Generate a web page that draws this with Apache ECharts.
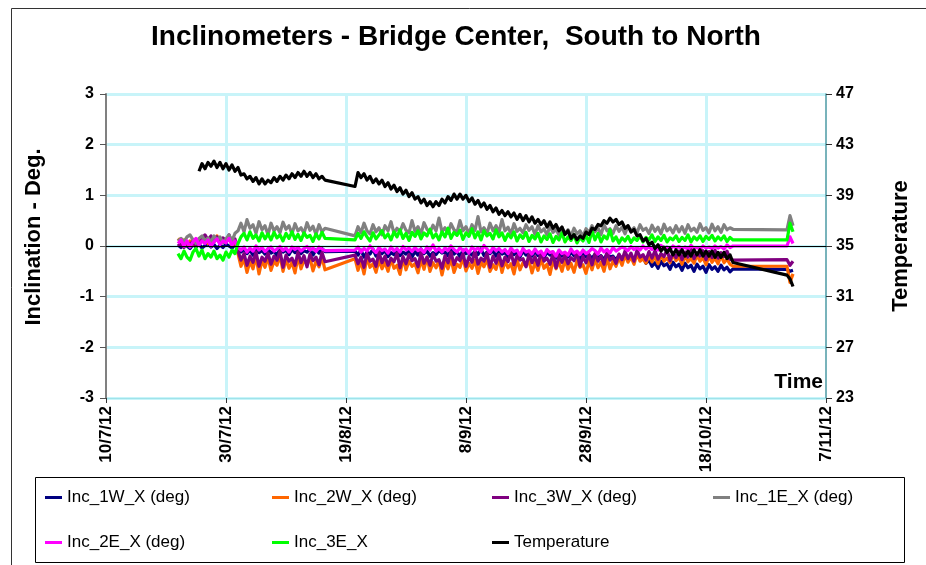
<!DOCTYPE html>
<html>
<head>
<meta charset="utf-8">
<script src="https://cdn.jsdelivr.net/npm/echarts@6/dist/echarts.min.js"></script>
<style>
html,body{margin:0;padding:0;background:#fff;}
#chart{width:926px;height:565px;}
</style>
</head>
<body>
<div id="chart"></div>
<script>
// ---- Data ----
// Sampling grid: logger readings every half day, day 0 = 10/7/12
const segments = [[12, 36.5], [41.5, 104.5], [113.5, 114.5]];
const stepDays = 0.5;

const xTickLabels = ['10/7/12', '30/7/12', '19/8/12', '8/9/12', '28/9/12', '18/10/12', '7/11/12'];

const seriesNames = ['Inc_1W_X (deg)', 'Inc_2W_X (deg)', 'Inc_3W_X (deg)', 'Inc_1E_X (deg)', 'Inc_2E_X (deg)', 'Inc_3E_X', 'Temperature'];

const inc1W = [
  // segment A
  0.02,-0.03,0.05,0.00,-0.05,0.03,-0.02,0.04,-0.04,0.01,
  0.05,-0.02,0.03,-0.05,0.02,-0.03,0.04,0.00,-0.04,0.02,
  -0.05,-0.12,-0.06,-0.15,-0.08,-0.18,-0.04,-0.13,-0.09,-0.16,
  -0.06,-0.14,-0.10,-0.19,-0.05,-0.12,-0.08,-0.17,-0.07,-0.13,
  -0.04,-0.15,-0.09,-0.12,-0.06,-0.18,-0.08,-0.14,-0.05,-0.11,
  // segment B
  -0.10,-0.18,-0.08,-0.22,-0.12,-0.16,-0.06,-0.20,-0.11,-0.15,
  -0.09,-0.21,-0.13,-0.17,-0.07,-0.19,-0.12,-0.16,-0.08,-0.22,
  -0.11,-0.18,-0.06,-0.15,-0.10,-0.20,-0.13,-0.17,-0.09,-0.14,
  -0.12,-0.19,-0.07,-0.16,-0.11,-0.21,-0.08,-0.15,-0.13,-0.18,
  -0.10,-0.17,-0.06,-0.19,-0.12,-0.15,-0.09,-0.20,-0.11,-0.16,
  -0.13,-0.21,-0.08,-0.17,-0.12,-0.22,-0.10,-0.18,-0.14,-0.20,
  -0.11,-0.19,-0.15,-0.23,-0.12,-0.18,-0.16,-0.24,-0.13,-0.20,
  -0.15,-0.22,-0.12,-0.19,-0.17,-0.25,-0.14,-0.21,-0.18,-0.24,
  -0.16,-0.23,-0.19,-0.27,-0.15,-0.22,-0.20,-0.28,-0.18,-0.25,
  -0.19,-0.26,-0.21,-0.28,-0.18,-0.25,-0.22,-0.34,-0.28,-0.40,
  -0.33,-0.44,-0.30,-0.39,-0.35,-0.46,-0.32,-0.41,-0.36,-0.48,
  -0.34,-0.43,-0.38,-0.50,-0.36,-0.45,-0.40,-0.52,-0.37,-0.46,
  -0.41,-0.50,-0.38,-0.47,-0.42,-0.51,-0.45,
  // segment C
  -0.46,-0.50,-0.48
];

const inc2W = [
  0.15,0.08,0.12,0.02,0.10,0.05,0.00,0.08,0.12,0.18,
  0.05,0.15,0.10,0.20,0.04,0.12,0.08,0.16,0.02,0.10,
  -0.15,-0.40,-0.25,-0.52,-0.30,-0.45,-0.20,-0.55,-0.28,-0.42,
  -0.22,-0.48,-0.30,-0.38,-0.18,-0.50,-0.26,-0.44,-0.32,-0.53,
  -0.20,-0.45,-0.28,-0.36,-0.24,-0.49,-0.30,-0.41,-0.22,-0.47,
  -0.25,-0.48,-0.30,-0.55,-0.22,-0.42,-0.35,-0.52,-0.28,-0.45,
  -0.32,-0.50,-0.26,-0.44,-0.38,-0.56,-0.24,-0.47,-0.30,-0.40,
  -0.35,-0.53,-0.27,-0.46,-0.22,-0.50,-0.33,-0.43,-0.29,-0.57,
  -0.31,-0.45,-0.25,-0.52,-0.36,-0.42,-0.23,-0.49,-0.34,-0.44,
  -0.28,-0.54,-0.32,-0.41,-0.26,-0.50,-0.37,-0.46,-0.24,-0.52,
  -0.30,-0.43,-0.35,-0.55,-0.27,-0.47,-0.33,-0.40,-0.29,-0.53,
  -0.32,-0.48,-0.25,-0.44,-0.36,-0.56,-0.28,-0.45,-0.31,-0.50,
  -0.27,-0.46,-0.34,-0.52,-0.29,-0.42,-0.37,-0.54,-0.30,-0.47,
  -0.26,-0.43,-0.32,-0.50,-0.24,-0.45,-0.30,-0.40,-0.22,-0.38,
  -0.18,-0.32,-0.22,-0.36,-0.15,-0.30,-0.25,-0.34,-0.19,-0.31,
  -0.21,-0.35,-0.17,-0.30,-0.24,-0.33,-0.16,-0.29,-0.22,-0.36,
  -0.19,-0.31,-0.25,-0.34,-0.18,-0.30,-0.23,-0.37,-0.20,-0.32,
  -0.24,-0.35,-0.19,-0.33,-0.26,-0.36,-0.40,
  -0.40,-0.72,-0.55
];

const inc3W = [
  0.00,0.05,-0.03,0.08,0.02,0.10,-0.02,0.06,0.15,0.22,
  0.12,0.20,0.08,0.18,0.05,0.16,0.10,0.22,0.06,0.14,
  -0.10,-0.28,-0.15,-0.38,-0.20,-0.32,-0.12,-0.40,-0.22,-0.30,
  -0.14,-0.36,-0.20,-0.28,-0.10,-0.42,-0.18,-0.30,-0.24,-0.38,
  -0.12,-0.33,-0.19,-0.41,-0.16,-0.29,-0.22,-0.37,-0.13,-0.31,
  -0.18,-0.35,-0.22,-0.42,-0.15,-0.30,-0.26,-0.40,-0.12,-0.33,
  -0.20,-0.38,-0.24,-0.31,-0.14,-0.43,-0.21,-0.35,-0.17,-0.29,
  -0.25,-0.41,-0.13,-0.34,-0.22,-0.38,-0.16,-0.30,-0.27,-0.44,
  -0.19,-0.33,-0.12,-0.37,-0.23,-0.29,-0.15,-0.40,-0.21,-0.32,
  -0.10,-0.36,-0.24,-0.30,-0.14,-0.42,-0.20,-0.34,-0.17,-0.39,
  -0.22,-0.31,-0.13,-0.37,-0.19,-0.28,-0.25,-0.41,-0.16,-0.33,
  -0.21,-0.38,-0.12,-0.30,-0.24,-0.36,-0.15,-0.43,-0.20,-0.32,
  -0.18,-0.35,-0.23,-0.29,-0.14,-0.40,-0.21,-0.33,-0.17,-0.37,
  -0.15,-0.30,-0.20,-0.36,-0.12,-0.28,-0.22,-0.34,-0.16,-0.27,
  -0.10,-0.25,-0.14,-0.30,-0.08,-0.22,-0.17,-0.28,-0.11,-0.24,
  -0.09,-0.26,-0.15,-0.21,-0.07,-0.29,-0.13,-0.23,-0.10,-0.27,
  -0.12,-0.22,-0.06,-0.25,-0.14,-0.20,-0.09,-0.27,-0.11,-0.23,
  -0.08,-0.24,-0.13,-0.21,-0.10,-0.26,-0.28,
  -0.27,-0.38,-0.30
];

const inc1E = [
  0.10,0.15,0.08,0.18,0.22,0.12,0.05,0.15,0.20,0.10,
  0.16,0.08,0.20,0.12,0.18,0.06,0.14,0.22,0.10,0.25,
  0.30,0.45,0.28,0.52,0.35,0.42,0.25,0.48,0.32,0.40,
  0.22,0.45,0.30,0.38,0.26,0.47,0.33,0.40,0.24,0.44,
  0.30,0.36,0.25,0.46,0.31,0.39,0.23,0.42,0.28,0.35,
  0.20,0.38,0.26,0.45,0.30,0.24,0.42,0.28,0.36,0.22,
  0.40,0.30,0.48,0.25,0.35,0.28,0.44,0.31,0.26,0.50,
  0.29,0.38,0.24,0.46,0.33,0.27,0.41,0.30,0.55,0.28,
  0.36,0.25,0.44,0.32,0.27,0.50,0.30,0.38,0.24,0.42,
  0.31,0.58,0.28,0.36,0.25,0.45,0.30,0.40,0.27,0.52,
  0.30,0.37,0.24,0.44,0.29,0.35,0.26,0.42,0.31,0.38,
  0.23,0.40,0.28,0.34,0.22,0.39,0.27,0.33,0.21,0.36,
  0.25,0.32,0.20,0.35,0.24,0.30,0.19,0.34,0.26,0.40,
  0.28,0.36,0.22,0.42,0.30,0.34,0.25,0.40,0.29,0.37,
  0.24,0.40,0.30,0.36,0.26,0.42,0.31,0.35,0.25,0.41,
  0.29,0.37,0.24,0.43,0.30,0.36,0.26,0.40,0.28,0.38,
  0.25,0.42,0.30,0.35,0.27,0.44,0.31,0.36,0.26,0.43,
  0.30,0.38,0.27,0.42,0.32,0.36,0.33,
  0.32,0.60,0.40
];

const inc2E = [
  0.05,0.12,0.00,0.10,-0.02,0.08,0.15,0.02,0.10,0.05,
  0.12,0.00,0.08,0.14,0.03,0.10,0.06,0.15,0.02,0.10,
  -0.02,-0.08,-0.02,-0.12,-0.04,-0.10,0.00,-0.08,-0.03,-0.11,
  -0.05,-0.02,-0.10,-0.06,-0.01,-0.09,-0.04,-0.12,-0.02,-0.07,
  -0.03,-0.10,-0.05,-0.01,-0.08,-0.04,-0.11,-0.02,-0.06,-0.09,
  -0.08,-0.02,-0.12,-0.05,-0.10,0.00,-0.07,-0.13,-0.03,-0.09,
  -0.06,-0.14,-0.02,-0.10,-0.05,-0.12,-0.01,-0.08,-0.04,-0.11,
  -0.03,-0.09,-0.06,-0.13,-0.02,-0.08,0.02,-0.10,-0.05,-0.12,
  -0.04,-0.09,0.00,-0.07,-0.12,-0.03,-0.10,-0.06,-0.14,-0.02,
  -0.08,-0.04,-0.11,0.01,-0.06,-0.13,-0.03,-0.09,-0.05,-0.12,
  -0.07,-0.15,-0.04,-0.11,-0.08,-0.18,-0.05,-0.12,-0.09,-0.16,
  -0.06,-0.14,-0.10,-0.19,-0.07,-0.13,-0.11,-0.20,-0.08,-0.15,
  -0.12,-0.18,-0.06,-0.14,-0.10,-0.17,-0.08,-0.15,-0.11,-0.05,
  -0.09,-0.16,-0.04,-0.12,-0.07,-0.14,-0.03,-0.10,-0.06,-0.02,
  -0.05,-0.09,-0.01,-0.07,-0.03,-0.08,0.00,-0.06,-0.02,-0.07,
  -0.03,-0.08,0.01,-0.05,-0.02,-0.07,0.00,-0.04,-0.01,-0.06,
  -0.02,-0.07,0.01,-0.05,-0.03,-0.06,0.00,-0.04,-0.02,-0.05,
  0.00,-0.04,-0.01,-0.06,0.02,-0.03,0.00,
  0.00,0.18,0.05
];

const inc3E = [
  -0.15,-0.25,-0.10,-0.22,-0.28,-0.12,-0.05,-0.20,-0.08,-0.25,
  -0.15,-0.22,-0.10,-0.25,-0.18,-0.28,-0.12,-0.22,-0.08,-0.15,
  0.05,0.18,0.25,0.12,0.28,0.15,0.22,0.10,0.26,0.14,
  0.24,0.12,0.27,0.16,0.22,0.10,0.25,0.15,0.28,0.13,
  0.23,0.11,0.26,0.17,0.21,0.09,0.24,0.14,0.27,0.15,
  0.12,0.25,0.15,0.28,0.18,0.10,0.26,0.14,0.22,0.30,
  0.16,0.24,0.12,0.28,0.18,0.32,0.15,0.25,0.11,0.27,
  0.19,0.30,0.14,0.26,0.20,0.33,0.16,0.24,0.12,0.28,
  0.18,0.35,0.15,0.27,0.21,0.31,0.13,0.26,0.19,0.34,
  0.16,0.28,0.12,0.30,0.20,0.25,0.14,0.32,0.18,0.26,
  0.11,0.24,0.16,0.28,0.10,0.22,0.15,0.27,0.09,0.21,
  0.14,0.25,0.08,0.20,0.13,0.24,0.07,0.19,0.12,0.26,
  0.08,0.18,0.11,0.22,0.06,0.17,0.10,0.21,0.07,0.30,
  0.12,0.25,0.08,0.20,0.14,0.32,0.10,0.18,0.06,0.16,
  0.10,0.19,0.07,0.16,0.11,0.20,0.08,0.17,0.12,0.22,
  0.09,0.18,0.11,0.21,0.08,0.16,0.12,0.20,0.09,0.17,
  0.11,0.22,0.08,0.18,0.12,0.20,0.09,0.19,0.13,0.21,
  0.10,0.18,0.12,0.20,0.09,0.17,0.12,
  0.12,0.45,0.28
];

const temperature = [
  null,null,null,null,null,null,null,
  40.9,41.5,41.1,41.6,41.3,41.7,41.2,41.6,41.1,41.5,
  41.0,41.4,40.9,41.2,40.6,40.7,40.3,40.5,40.1,40.4,
  39.9,40.3,39.9,40.2,40.0,40.4,40.1,40.5,40.2,40.6,
  40.3,40.7,40.4,40.8,40.5,40.9,40.5,40.8,40.4,40.7,
  40.3,40.5,40.2,
  39.7,40.8,40.4,40.7,40.2,40.5,40.0,40.3,39.9,40.2,
  39.7,40.0,39.5,39.8,39.3,39.6,39.1,39.4,38.9,39.2,
  38.7,38.9,38.4,38.7,38.2,38.5,38.1,38.5,38.2,38.7,
  38.4,38.9,38.6,39.1,38.7,39.1,38.7,39.0,38.5,38.8,
  38.3,38.6,38.1,38.4,37.9,38.2,37.7,38.0,37.5,37.8,
  37.4,37.7,37.3,37.6,37.1,37.5,37.0,37.4,36.9,37.3,
  36.8,37.1,36.7,37.0,36.5,36.9,36.4,36.7,36.2,36.5,
  35.9,36.2,35.6,35.9,35.5,35.8,35.6,36.1,35.9,36.4,
  36.3,36.7,36.6,37.0,36.8,37.2,36.9,37.1,36.7,36.9,
  36.4,36.6,36.1,36.3,35.8,35.9,35.4,35.6,35.1,35.3,
  34.8,35.1,34.6,34.9,34.5,34.8,34.3,34.7,34.3,34.7,
  34.2,34.6,34.2,34.7,34.3,34.7,34.2,34.6,34.2,34.6,
  34.1,34.5,34.1,34.5,34.0,34.3,33.7,
  32.7,32.4,31.8
];

// ---- Build ----
const days = [];
segments.forEach(([a, b]) => { for (let d = a; d <= b + 1e-9; d += stepDays) days.push(+d.toFixed(2)); });

const allValues = [inc1W, inc2W, inc3W, inc1E, inc2E, inc3E, temperature];
allValues.forEach((arr, k) => {
  if (arr.length !== days.length) throw new Error('Length mismatch for ' + seriesNames[k] + ': ' + arr.length + ' vs ' + days.length);
});

const colors = ['#000080', '#ff6600', '#800080', '#808080', '#ff00ff', '#00ff00', '#000000'];
const legendPos = [[45, 489], [272, 489], [492, 489], [713, 489], [45, 534], [272, 534], [492, 534]];
const FONT = "'Liberation Sans', Arial, Helvetica, sans-serif";
const GRID_COLOR = '#c8f4f9';

const series = seriesNames.map((name, k) => {
  const s = {
    name: name,
    type: 'line',
    yAxisIndex: k === 6 ? 1 : 0,
    showSymbol: false,
    symbol: 'none',
    animation: false,
    connectNulls: false,
    lineStyle: { color: colors[k], width: 3.2, join: 'round' },
    itemStyle: { color: colors[k] },
    data: days.map((d, i) => [d, allValues[k][i]])
  };
  if (k === 0) {
    s.markLine = {
      silent: true, symbol: 'none', animation: false,
      label: { show: false },
      lineStyle: { color: '#000', width: 1, type: 'solid' },
      data: [{ yAxis: 0 }]
    };
  }
  return s;
});

const chart = echarts.init(document.getElementById('chart'), null, { renderer: 'canvas' });
chart.setOption({
  animation: false,
  backgroundColor: '#fff',
  textStyle: { fontFamily: FONT },
  title: {
    text: 'Inclinometers - Bridge Center,  South to North',
    left: 146, top: 18,
    textStyle: { fontFamily: FONT, fontSize: 28, fontWeight: 'bold', color: '#000' }
  },
  grid: { left: 106, right: 100, top: 94, bottom: 167, containLabel: false },
  legend: seriesNames.map((n, k) => ({
    data: [n],
    left: legendPos[k][0], top: legendPos[k][1],
    icon: 'rect', itemWidth: 17, itemHeight: 3, padding: 0,
    selectedMode: false,
    textStyle: { fontFamily: FONT, fontSize: 17, color: '#000' }
  })),
  xAxis: {
    type: 'value', min: 0, max: 120, interval: 20,
    axisLine: { onZero: false, lineStyle: { color: '#9fe3ea', width: 1 } },
    axisTick: { show: true, length: 5, lineStyle: { color: '#333' } },
    axisLabel: {
      rotate: 90, margin: 8, fontFamily: FONT, fontSize: 17, fontWeight: 'bold', color: '#000',
      formatter: v => xTickLabels[Math.round(v / 20)]
    },
    splitLine: { show: true, showMinLine: false, showMaxLine: false, lineStyle: { color: GRID_COLOR, width: 3 } }
  },
  yAxis: [
    {
      type: 'value', min: -3, max: 3, interval: 1, position: 'left',
      name: 'Inclination - Deg.', nameLocation: 'middle', nameRotate: 90, nameGap: 61,
      nameTextStyle: { fontFamily: FONT, fontSize: 22, fontWeight: 'bold', color: '#000', padding: [0, 0, 0, 18] },
      axisLine: { show: true, lineStyle: { color: '#808080', width: 2 } },
      axisTick: { show: true, length: 6, lineStyle: { color: '#555' } },
      axisLabel: { margin: 12, fontFamily: FONT, fontSize: 16, fontWeight: 'bold', color: '#000' },
      splitLine: { show: true, lineStyle: { color: GRID_COLOR, width: 3 } }
    },
    {
      type: 'value', min: 23, max: 47, interval: 4, position: 'right',
      name: 'Temperature', nameLocation: 'middle', nameRotate: 90, nameGap: 64,
      nameTextStyle: { fontFamily: FONT, fontSize: 22, fontWeight: 'bold', color: '#000' },
      axisLine: { show: true, lineStyle: { color: '#4b9aa4', width: 1.5 } },
      axisTick: { show: true, length: 6, lineStyle: { color: '#333' } },
      axisLabel: { margin: 10, fontFamily: FONT, fontSize: 16, fontWeight: 'bold', color: '#000' },
      splitLine: { show: false }
    }
  ],
  graphic: [
    { type: 'rect', silent: true, z: -1, shape: { x: 11.5, y: 8.5, width: 1000, height: 1000 },
      style: { fill: null, stroke: '#333', lineWidth: 1 } },
    { type: 'rect', silent: true, shape: { x: 35.5, y: 477.5, width: 869, height: 85 },
      style: { fill: null, stroke: '#000', lineWidth: 1 } },
    { type: 'text', silent: true, z: 100, x: 823, y: 382,
      style: { text: 'Time', font: "bold 21px 'Liberation Sans', Arial, sans-serif", fill: '#000', align: 'right', verticalAlign: 'middle' } }
  ],
  series: series
});
</script>
</body>
</html>
